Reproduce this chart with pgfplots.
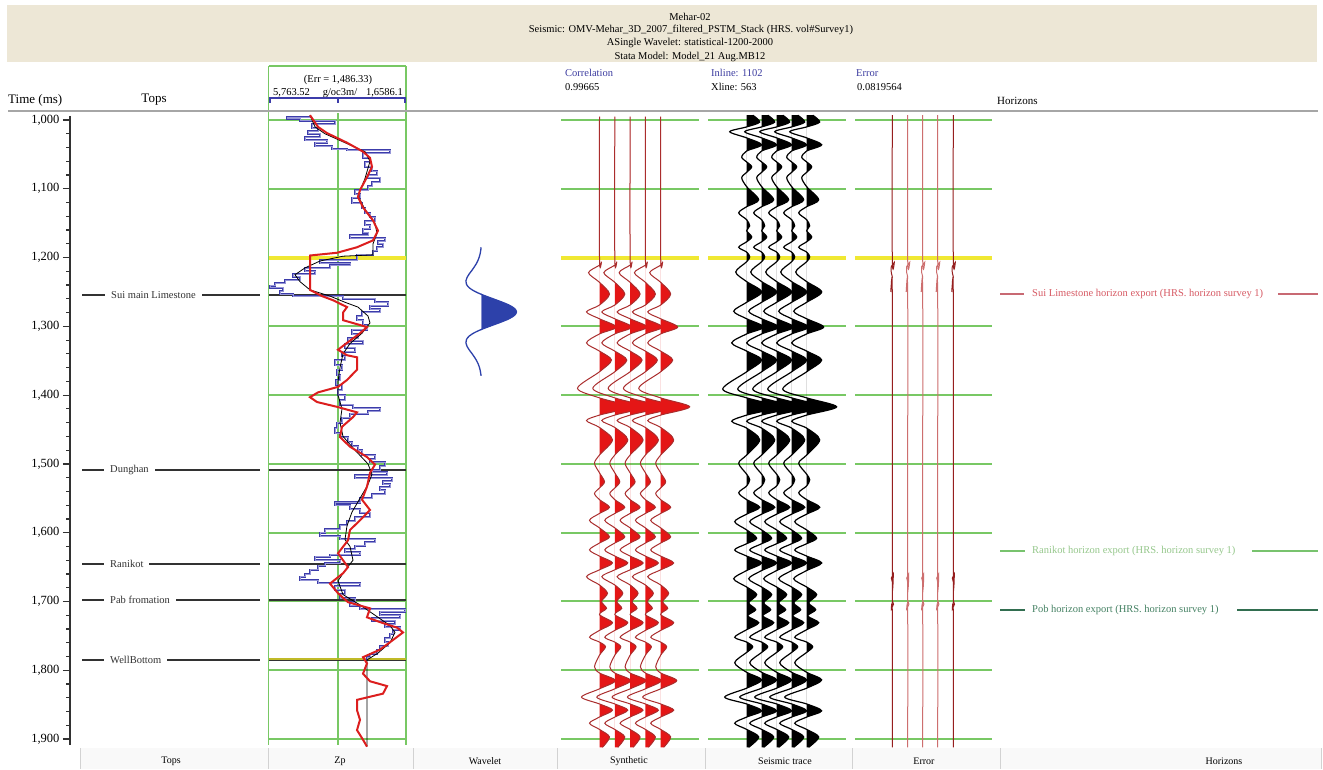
\documentclass[border=0pt]{standalone}
\usepackage{fontspec}
\setmainfont{Liberation Serif}
\usepackage{pgfplots}
\pgfplotsset{compat=1.18}
\usepackage{pgfplotstable}

\definecolor{tanbg}{RGB}{237,231,214}
\definecolor{grn}{RGB}{120,200,100}
\definecolor{ylw}{RGB}{240,232,50}
\definecolor{logblue}{RGB}{60,60,170}
\definecolor{logblue2}{RGB}{150,150,215}
\definecolor{zred}{RGB}{220,30,30}
\definecolor{wblue}{RGB}{45,65,170}
\definecolor{synline}{RGB}{170,45,45}
\definecolor{synfill}{RGB}{228,22,22}
\definecolor{lblue}{RGB}{60,60,160}
\definecolor{errdark}{RGB}{150,30,30}
\definecolor{errpink}{RGB}{205,110,110}
\definecolor{topgray}{RGB}{50,50,50}
\definecolor{suic}{RGB}{200,105,115}
\definecolor{suit}{RGB}{215,90,100}
\definecolor{ranc}{RGB}{120,195,110}
\definecolor{rant}{RGB}{150,200,140}
\definecolor{pobc}{RGB}{50,110,80}
\definecolor{pobt}{RGB}{70,130,100}

\newcommand{\fs}[1]{\fontsize{#1}{#1}\selectfont}

\pgfplotstableread{
v t
310 994
287 996
300 998
335 1001
312 1006
318 1012
308 1016
320 1020
305 1025
327 1029
315 1033
332 1038
347 1042
390 1044
363 1048
370 1055
365 1061
372 1068
377 1074
368 1080
380 1084
372 1090
368 1096
355 1102
360 1108
352 1113
362 1121
365 1128
370 1135
375 1141
365 1147
370 1153
363 1158
368 1164
350 1167
385 1172
378 1176
383 1180
377 1185
373 1190
357 1196
320 1204
350 1208
330 1211
305 1215
315 1220
293 1224
300 1228
285 1233
275 1237
270 1241
283 1244
280 1249
293 1253
343 1256
375 1260
388 1265
370 1270
380 1275
362 1279
357 1285
363 1291
367 1298
352 1305
358 1311
348 1317
363 1321
345 1326
355 1331
342 1337
345 1343
335 1349
342 1356
337 1363
340 1371
336 1378
342 1385
338 1393
345 1400
340 1407
353 1414
380 1419
368 1423
350 1427
342 1433
337 1440
335 1448
340 1455
348 1461
352 1468
358 1474
362 1480
375 1487
370 1493
385 1497
380 1503
372 1509
387 1512
355 1516
392 1521
383 1525
390 1529
380 1534
385 1538
372 1544
360 1550
335 1556
350 1560
360 1566
370 1571
355 1577
347 1583
340 1589
325 1595
320 1600
340 1605
375 1609
365 1614
355 1619
345 1624
360 1628
330 1632
315 1635
340 1640
325 1644
318 1648
310 1654
305 1660
300 1664
318 1669
360 1673
335 1678
345 1683
340 1689
355 1695
350 1701
360 1706
405 1711
380 1715
400 1720
372 1724
395 1728
385 1733
400 1737
393 1741
390 1747
385 1753
388 1759
380 1765
377 1771
370 1776
367 1781
367 1785
}\bluelog

\pgfplotstableread{
v t
310 993
315 1010
325 1020
345 1033
365 1046
370 1060
365 1085
358 1110
365 1130
375 1150
377 1165
373 1180
373 1196
343 1198
320 1205
305 1215
295 1225
300 1235
310 1247
330 1256
345 1265
358 1272
368 1285
370 1295
362 1310
350 1325
343 1340
340 1360
338 1380
338 1400
342 1420
340 1440
343 1460
355 1480
368 1500
372 1515
368 1530
360 1550
352 1570
347 1590
345 1610
350 1620
353 1640
345 1655
338 1670
343 1690
360 1705
375 1720
390 1735
395 1745
390 1760
378 1775
367 1785
367 1911
}\blacklog

\pgfplotstableread{
v t
310 993
318 1010
327 1019
347 1033
363 1046
370 1055
372 1068
367 1083
360 1102
358 1112
363 1127
373 1146
378 1161
373 1175
357 1185
337 1193
310 1197
310 1247
322 1256
333 1262
347 1272
343 1280
343 1291
367 1301
360 1310
347 1324
338 1334
347 1342
357 1345
357 1363
347 1378
338 1388
318 1396
310 1403
317 1410
337 1417
357 1425
353 1432
342 1446
340 1461
350 1475
367 1490
375 1501
370 1513
367 1533
362 1552
370 1567
360 1582
350 1596
348 1611
338 1630
348 1650
343 1659
330 1674
338 1688
348 1701
370 1710
367 1723
380 1730
397 1738
403 1745
393 1756
380 1770
363 1781
367 1790
363 1805
370 1816
387 1823
383 1834
357 1843
357 1858
360 1872
357 1887
363 1901
367 1911
}\redlog

\pgfplotstableread{
x t
481.0 1185
480.8 1189
480.2 1194
479.3 1199
478.0 1204
476.3 1209
474.1 1214
471.7 1219
469.1 1224
467.0 1229
465.9 1234
466.5 1239
469.3 1244
474.6 1249
482.2 1254
491.3 1259
500.6 1264
508.9 1269
514.5 1274
516.5 1279
514.5 1284
508.9 1289
500.6 1294
491.3 1299
482.2 1304
474.6 1309
469.3 1314
466.5 1319
465.9 1324
467.0 1329
469.1 1334
471.7 1339
474.1 1344
476.3 1349
478.0 1354
479.3 1359
480.2 1364
480.8 1369
481.0 1372
}\wavelet

\pgfplotstableread{
a t
0 995
0 1200
2 1206
0 1211
-11 1222
0 1236
10 1253
0 1269
-13 1279
0 1289
17 1301
0 1311
-13 1324
0 1336
12 1349
0 1366
-22 1390
0 1404
29 1417
0 1429
-13 1437
0 1447
13 1465
0 1487
-5 1499
0 1513
5 1526
0 1535
-5 1543
0 1552
10 1563
0 1572
-10 1582
0 1593
10 1606
0 1615
-10 1625
0 1634
13 1644
0 1654
-13 1664
0 1676
8 1688
2 1700
7 1710
0 1719
13 1731
0 1742
-10 1752
0 1759
6 1766
0 1778
-5 1795
0 1804
16 1815
0 1827
-18 1839
0 1849
13 1858
0 1868
-10 1877
0 1886
10 1897
3 1912
}\synth

\pgfplotstableread{
a t
6 993
13 1003
0 1010
-17 1017
0 1026
15 1036
0 1045
-5 1054
0 1061
5 1068
0 1076
-5 1084
0 1097
12 1116
0 1126
-8 1135
0 1145
3 1154
0 1161
5 1170
0 1177
-8 1185
0 1192
3 1199
0 1206
-11 1221
0 1235
15 1250
0 1265
-13 1278
0 1289
17 1301
0 1311
-15 1324
0 1336
15 1349
0 1366
-24 1391
0 1404
30 1417
0 1429
-15 1438
0 1448
13 1465
0 1487
-8 1499
0 1515
3 1523
0 1532
-8 1542
0 1552
13 1563
0 1573
-12 1584
0 1596
10 1608
0 1616
-12 1625
0 1634
15 1644
0 1655
-13 1667
0 1679
10 1690
2 1702
9 1712
1 1721
12 1731
0 1741
-12 1752
0 1759
6 1766
0 1774
-12 1789
0 1803
15 1814
0 1826
-22 1839
0 1849
15 1859
0 1868
-12 1877
0 1886
12 1897
2 1912
}\seis

\pgfplotstableread{
a t
0 993
0 1203
2 1207
-1 1213
-1 1222
0 1228
-1 1240
-1.5 1250
0 1257
0 1655
1 1660
-1 1666
0 1672
0 1698
1.2 1704
-1 1711
0 1717
0 1912
}\errt

\begin{document}
\begin{tikzpicture}
\useasboundingbox (0,0) rectangle (1323pt,-769pt);
\fill[white] (0,0) rectangle (1323pt,-769pt);
\fill[tanbg] (7pt,-5pt) rectangle (1317pt,-62pt);
\fill[gray!5] (80pt,-748pt) rectangle (1321pt,-769pt);
\foreach \x in {80,268,413,557,705,852,1000,1321}
  \draw[gray!35, line width=1pt] (\x pt,-748pt) -- (\x pt,-769pt);

\begin{axis}[at={(0pt,0pt)}, anchor=north west, scale only axis,
  width=1323pt, height=769pt, xmin=0, xmax=1323,
  ymin=825.53, ymax=1943.59, y dir=reverse, hide axis, clip=false]

\addplot[grn, line width=1.8pt, forget plot] coordinates {(268.5,921.5) (268.5,1908.7)};
\addplot[grn, line width=1.8pt, forget plot] coordinates {(406,921.5) (406,1908.7)};
\addplot[grn, line width=1.8pt, forget plot] coordinates {(338,989.8) (338,1908.7)};
\addplot[grn, line width=1.8pt, forget plot] coordinates {(268.5,921.5) (406,921.5)};
\pgfplotsinvokeforeach{1000,1100,1200,1300,1400,1500,1600,1700,1800,1900}{
  \addplot[grn, line width=2pt, forget plot] coordinates {(269,#1) (406,#1)};
  \addplot[grn, line width=2pt, forget plot] coordinates {(561,#1) (699,#1)};
  \addplot[grn, line width=2pt, forget plot] coordinates {(708,#1) (846,#1)};
  \addplot[grn, line width=2pt, forget plot] coordinates {(855,#1) (992,#1)};
}
\addplot[ylw, line width=4pt] coordinates {(269,1200) (406,1200)};
\addplot[ylw, line width=4pt] coordinates {(561,1200) (699,1200)};
\addplot[ylw, line width=4pt] coordinates {(708,1200) (846,1200)};
\addplot[ylw, line width=4pt] coordinates {(855,1200) (992,1200)};
\addplot[ylw!80!black, line width=3pt] coordinates {(269,1785) (406,1785)};
\addplot[topgray, line width=0.8pt] coordinates {(269,1785) (406,1785)};

\pgfplotsinvokeforeach{1254.4,1508.9,1645.5,1697.9}{
  \addplot[topgray, line width=1.5pt] coordinates {(269,#1) (406,#1)};
  \addplot[topgray, line width=1.2pt] coordinates {(82,#1) (260,#1)};
}
\addplot[topgray, line width=1.2pt] coordinates {(82,1785.1) (260,1785.1)};
\node[fill=white, inner xsep=6pt, inner ysep=1pt, anchor=west, font=\fs{10.5}, text=topgray] at (105,1254.4) {Sui main Limestone};
\node[fill=white, inner xsep=6pt, inner ysep=1pt, anchor=west, font=\fs{10.5}, text=topgray] at (104,1508.9) {Dunghan};
\node[fill=white, inner xsep=6pt, inner ysep=1pt, anchor=west, font=\fs{10.5}, text=topgray] at (104,1645.5) {Ranikot};
\node[fill=white, inner xsep=6pt, inner ysep=1pt, anchor=west, font=\fs{10.5}, text=topgray] at (104,1697.9) {Pab fromation};
\node[fill=white, inner xsep=6pt, inner ysep=1pt, anchor=west, font=\fs{10.5}, text=topgray] at (104,1785.1) {WellBottom};

\addplot[topgray, line width=1.2pt] coordinates {(70,994) (70,1909)};

\addplot[logblue, line width=2.2pt, const plot mark right] table[x=v, y=t] {\bluelog};
\addplot[logblue2, line width=0.7pt, const plot mark right] table[x=v, y=t] {\bluelog};
\addplot[black, line width=0.8pt] table[x=v, y=t] {\blacklog};
\addplot[zred, line width=2pt] table[x=v, y=t] {\redlog};

\addplot[wblue, fill=wblue, draw=wblue] coordinates {(481.5,1253) (482.2,1254) (491.3,1259) (500.6,1264) (508.9,1269) (514.5,1274) (516.5,1279) (514.5,1284) (508.9,1289) (500.6,1294) (491.3,1299) (482.2,1304) (481.5,1305)} -- cycle;
\addplot[wblue, line width=1.3pt, smooth] table[x=x, y=t] {\wavelet};

\pgfplotsinvokeforeach{599.5,614.8,630.1,645.4,660.7}{
  \begin{scope}
  \clip (#1,900) rectangle (700,2000);
  \addplot[fill=synfill, draw=none, smooth] table[x expr=\thisrow{a}+#1, y=t] {\synth} -- (#1,1912) -- (#1,995) -- cycle;
  \end{scope}
  \addplot[synline, line width=1pt, smooth] table[x expr=\thisrow{a}+#1, y=t] {\synth};
}
\pgfplotsinvokeforeach{746.7,761.7,776.7,791.7,806.7}{
  \begin{scope}
  \clip (#1,900) rectangle (850,2000);
  \addplot[fill=black, draw=none, smooth] table[x expr=\thisrow{a}+#1, y=t] {\seis} -- (#1,1912) -- (#1,993) -- cycle;
  \end{scope}
  \addplot[black, line width=1.2pt, smooth] table[x expr=\thisrow{a}+#1, y=t] {\seis};
}
\addplot[errdark, line width=1pt, smooth] table[x expr=\thisrow{a}+892.3, y=t] {\errt};
\addplot[errpink, line width=1pt, smooth] table[x expr=\thisrow{a}+907.7, y=t] {\errt};
\addplot[errpink, line width=1pt, smooth] table[x expr=\thisrow{a}+922.7, y=t] {\errt};
\addplot[errpink, line width=1pt, smooth] table[x expr=\thisrow{a}+937.7, y=t] {\errt};
\addplot[errdark, line width=1pt, smooth] table[x expr=\thisrow{a}+953.3, y=t] {\errt};
\end{axis}

\begin{axis}[at={(70pt,-120pt)}, anchor=north west, scale only axis,
  width=10pt, height=619pt, ymin=1000, ymax=1900, y dir=reverse,
  xmin=0, xmax=1, axis x line=none, axis y line=left,
  y axis line style={-, draw=none},
  ytick={1000,1100,...,1900}, minor y tick num=4,
  tick align=outside, major tick length=7pt, minor tick length=3.5pt,
  tick style={topgray, line width=1.2pt},
  yticklabel style={font=\fs{12.5}, /pgf/number format/1000 sep={,}},
  /pgf/number format/assume math mode=true]
\addplot[draw=none] coordinates {(0,1000) (1,1900)};
\end{axis}

\node[font=\fs{10.5}] at (690pt,-17pt) {Mehar-02};
\node[font=\fs{10.5}] at (691pt,-30pt) {Seismic: OMV-Mehar\_3D\_2007\_filtered\_PSTM\_Stack (HRS. vol\#Survey1)};
\node[font=\fs{10.5}] at (690pt,-43pt) {ASingle Wavelet: statistical-1200-2000};
\node[font=\fs{10.5}] at (690pt,-57pt) {Stata Model: Model\_21 Aug.MB12};

\node[font=\fs{13}, anchor=west, inner sep=0pt] at (8pt,-100pt) {Time (ms)};
\node[font=\fs{13}, inner sep=0pt] at (154pt,-100pt) {Tops};
\node[font=\fs{11}, anchor=west, inner sep=0pt] at (997pt,-101pt) {Horizons};

\node[font=\fs{10.5}] at (338pt,-80pt) {(Err = 1,486.33)};
\node[font=\fs{10.5}, anchor=west, inner sep=0pt] at (273pt,-93pt) {5,763.52};
\node[font=\fs{10.5}, inner sep=0pt] at (340pt,-93pt) {g/oc3m/};
\node[font=\fs{10.5}, anchor=east, inner sep=0pt] at (403pt,-93pt) {1,6586.1};
\draw[logblue, line width=1.5pt] (269pt,-98pt) -- (406pt,-98pt);
\foreach \x in {270,338,405} \draw[logblue, line width=1.2pt] (\x pt,-98pt) -- (\x pt,-103pt);

\node[font=\fs{10.5}, text=lblue, anchor=west, inner sep=0pt] at (565pt,-73pt) {Correlation};
\node[font=\fs{10.5}, anchor=west, inner sep=0pt] at (565pt,-87pt) {0.99665};
\node[font=\fs{10.5}, text=lblue, anchor=west, inner sep=0pt] at (711pt,-73pt) {Inline: 1102};
\node[font=\fs{10.5}, anchor=west, inner sep=0pt] at (711pt,-87pt) {Xline: 563};
\node[font=\fs{10.5}, text=lblue, anchor=west, inner sep=0pt] at (856pt,-73pt) {Error};
\node[font=\fs{10.5}, anchor=west, inner sep=0pt] at (857pt,-87pt) {0.0819564};

\draw[gray!70, line width=2pt] (8pt,-111pt) -- (1318pt,-111pt);

\draw[suic, line width=1.8pt] (1000pt,-294pt) -- (1024pt,-294pt);
\draw[suic, line width=1.8pt] (1278pt,-294pt) -- (1318pt,-294pt);
\node[font=\fs{10.5}, text=suit, anchor=west, inner sep=0pt] at (1032pt,-294pt) {Sui Limestone horizon export (HRS. horizon survey 1)};
\draw[ranc, line width=1.8pt] (1000pt,-551pt) -- (1025pt,-551pt);
\draw[ranc, line width=1.8pt] (1252pt,-551pt) -- (1318pt,-551pt);
\node[font=\fs{10.5}, text=rant, anchor=west, inner sep=0pt] at (1032pt,-551pt) {Ranikot horizon export (HRS. horizon survey 1)};
\draw[pobc, line width=1.8pt] (1000pt,-610pt) -- (1025pt,-610pt);
\draw[pobc, line width=1.8pt] (1237pt,-610pt) -- (1318pt,-610pt);
\node[font=\fs{10.5}, text=pobt, anchor=west, inner sep=0pt] at (1032pt,-610pt) {Pob horizon export (HRS. horizon survey 1)};

\node[font=\fs{10}] at (171pt,-761pt) {Tops};
\node[font=\fs{10}] at (340pt,-761pt) {Zp};
\node[font=\fs{10}] at (485pt,-761pt) {Wavelet};
\node[font=\fs{10}] at (629pt,-761pt) {Synthetic};
\node[font=\fs{10}] at (785pt,-761pt) {Seismic trace};
\node[font=\fs{10}] at (924pt,-761pt) {Error};
\node[font=\fs{10}] at (1224pt,-761pt) {Horizons};
\end{tikzpicture}
\end{document}
